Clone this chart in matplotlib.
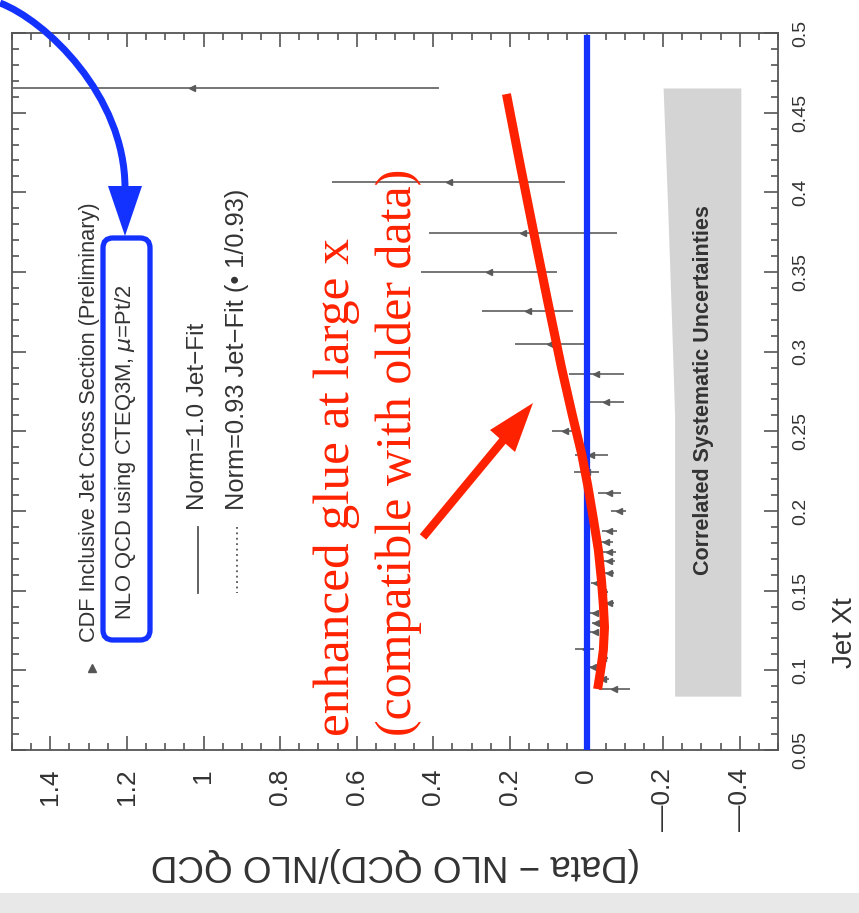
import matplotlib
matplotlib.use('Agg')
import matplotlib.pyplot as plt
import numpy as np
from matplotlib.ticker import MultipleLocator
from matplotlib.patches import FancyBboxPatch, Polygon, PathPatch, Rectangle
from matplotlib.path import Path

plot_font = ['Liberation Sans', 'DejaVu Sans']
note_font = ['Liberation Serif', 'DejaVu Serif']

# measured points: jet xt, (data - nlo)/nlo and the statistical error
jet_xt = [0.4655, 0.4065, 0.3745, 0.350, 0.3255, 0.305, 0.286, 0.2684, 0.250,
          0.235, 0.2244, 0.2112, 0.200, 0.1874, 0.1805, 0.1742, 0.1686, 0.161,
          0.1547, 0.149, 0.142, 0.136, 0.1296, 0.124, 0.1133, 0.1077, 0.102,
          0.0945, 0.0882]
ratio = [1.03, 0.36, 0.165, 0.254, 0.154, 0.094, -0.026, -0.052, 0.057,
         -0.013, 0.000, -0.060, -0.084, -0.060, -0.052, -0.060, -0.060, -0.058,
         -0.026, -0.044, -0.060, -0.021, -0.026, -0.021, 0.005, -0.044, -0.018,
         -0.044, -0.073]
ratio_err = [0.645, 0.305, 0.245, 0.177, 0.118, 0.093, 0.072, 0.046, 0.033,
             0.043, 0.033, 0.029, 0.020, 0.020, 0.018, 0.016, 0.015, 0.014,
             0.013, 0.013, 0.012, 0.012, 0.012, 0.012, 0.025, 0.012, 0.012,
             0.015, 0.040]

# correlated systematics band (drawn offset around -0.3)
band_xt = [0.4655, 0.39, 0.32, 0.26, 0.15, 0.0838]
band_hi = [-0.200, -0.212, -0.222, -0.230, -0.230, -0.230]
band_lo = [-0.403, -0.403, -0.403, -0.403, -0.403, -0.403]

# hand drawn "enhanced glue" curve
glue_xt = [0.4617, 0.4171, 0.3726, 0.3324, 0.2897, 0.2602, 0.2363, 0.2163,
           0.1949, 0.1755, 0.1566, 0.1409, 0.1271, 0.1127, 0.1001, 0.0882]
glue_ratio = [0.209, 0.173, 0.136, 0.102, 0.065, 0.037, 0.013, -0.003,
              -0.018, -0.031, -0.039, -0.044, -0.047, -0.044, -0.037, -0.029]

ratio_ticks = [1.4, 1.2, 1.0, 0.8, 0.6, 0.4, 0.2, 0.0, -0.2, -0.4]
ratio_labels = ['1.4', '1.2', '1', '0.8', '0.6', '0.4', '0.2', '0',
                '\u20140.2', '\u20140.4']
xt_ticks = [0.05, 0.1, 0.15, 0.2, 0.25, 0.3, 0.35, 0.4, 0.45, 0.5]
xt_labels = ['0.05', '0.1', '0.15', '0.2', '0.25', '0.3', '0.35', '0.4',
             '0.45', '0.5']

W, H = 859, 913
fig = plt.figure(figsize=(W / 100, H / 100), dpi=100)
fig.patch.set_facecolor('white')
fig.add_artist(Rectangle((0, 0), 1, 20 / H, transform=fig.transFigure,
                         facecolor='#e8e8e8', edgecolor='none'))

ax = fig.add_axes([12 / W, (H - 750) / H, 766 / W, 717 / H])
ax.set_xlim(1.5, -0.5)
ax.set_ylim(0.05, 0.5)

gray = '#555555'
txt = '#333333'
for s in ax.spines.values():
    s.set_color(gray)
    s.set_linewidth(1.3)

ax.fill_betweenx(band_xt, band_lo, band_hi, color='#d4d4d4', lw=0, zorder=1)
ax.text(-0.305, 0.276, 'Correlated Systematic Uncertainties', rotation=90,
        ha='center', va='center', fontsize=15.5, color=txt,
        family=plot_font, fontweight='bold')

ax.errorbar(ratio, jet_xt, xerr=ratio_err, fmt='<', ms=4, color='#5a5a5a',
            ecolor='#6a6a6a', elinewidth=1.3, capsize=0, zorder=3)

ax.axvline(0, ymin=0, ymax=0.993, color='#1432ff', lw=4.5, zorder=4)
ax.plot(glue_ratio, glue_xt, color='#ff2200', lw=6.5, zorder=5,
        solid_capstyle='butt')

ax.set_xticks(ratio_ticks)
ax.set_xticklabels(ratio_labels, rotation=90, family=plot_font, fontsize=19,
                   color=txt)
ax.xaxis.set_minor_locator(MultipleLocator(0.05))
ax.tick_params(axis='x', which='both', direction='in', top=True, bottom=True,
               colors=gray, labelcolor=txt, pad=13)
ax.tick_params(axis='x', which='major', length=10, width=1.2)
ax.tick_params(axis='x', which='minor', length=5, width=1.2)

ax.yaxis.tick_right()
ax.set_yticks(xt_ticks)
ax.set_yticklabels(xt_labels, rotation=90, va='center', family=plot_font,
                   fontsize=14, color=txt)
ax.yaxis.set_minor_locator(MultipleLocator(0.01))
ax.tick_params(axis='y', which='both', direction='in', left=True, right=True,
               labelleft=False, labelright=True, colors=gray,
               labelcolor=txt, pad=10)
ax.tick_params(axis='y', which='major', length=10, width=1.2)
ax.tick_params(axis='y', which='minor', length=5, width=1.2)

ax.set_xlabel('(Data \u2212 NLO QCD)/NLO QCD', rotation=180, family=plot_font,
              fontsize=26.5, color=txt, va='center', ha='center')
ax.xaxis.set_label_coords(0.5, (750 - 864) / 717)
ax.yaxis.set_label_position('right')
ax.set_ylabel('Jet Xt', rotation=90, family=plot_font, fontsize=20,
              color=txt, va='center', ha='center')
ax.yaxis.set_label_coords((845 - 12) / 766, (750 - 633) / 717)

# overlay in pixel units for the legend and the hand drawn notes
ov = fig.add_axes([0, 0, 1, 1], zorder=10)
ov.set_xlim(0, W)
ov.set_ylim(H, 0)
ov.axis('off')
ov.patch.set_alpha(0)

ov.plot([92], [668], marker='^', ms=6, color='#555555')
ov.text(90, 642, 'CDF Inclusive Jet Cross Section (Preliminary)', rotation=90,
        ha='center', va='bottom', fontsize=15.7, family=plot_font, color=txt)
ov.text(126, 620, 'NLO QCD using CTEQ3M, $\\mu$=Pt/2', rotation=90,
        ha='center', va='bottom', fontsize=15.8, family=plot_font, color=txt)
ov.plot([198, 198], [527, 593], color='#555555', lw=1.3)
ov.text(198, 510, 'Norm=1.0 Jet\u2212Fit', rotation=90, ha='center',
        va='bottom', fontsize=17.5, family=plot_font, color=txt)
ov.plot([237, 237], [527, 593], color='#555555', lw=1.3, ls=(0, (1, 2)))
ov.text(237, 510, 'Norm=0.93 Jet\u2212Fit (\u2022 1/0.93)', rotation=90,
        ha='center', va='bottom', fontsize=18.3, family=plot_font, color=txt)

blue = '#1432ff'
ov.add_patch(FancyBboxPatch((103, 238), 47, 402,
                            boxstyle='round,pad=0,rounding_size=10',
                            fill=False, ec=blue, lw=3.8))
arc = Path([(0, 3), (45, 20), (125, 95), (125, 188)],
           [Path.MOVETO, Path.CURVE4, Path.CURVE4, Path.CURVE4])
ov.add_patch(PathPatch(arc, fill=False, ec=blue, lw=5))
ov.add_patch(Polygon([(125, 236), (108, 186), (142, 186)], closed=True,
                     fc=blue, ec='none'))

red = '#ff2200'
ov.plot([423, 505], [537, 438], color=red, lw=6, solid_capstyle='butt')
ov.add_patch(Polygon([(533, 403), (490, 430), (515, 452)], closed=True,
                     fc=red, ec='none'))
ov.text(337, 736, 'enhanced glue at large x', rotation=90, ha='center',
        va='bottom', fontsize=37, family=note_font, color=red)
ov.text(399, 736, '(compatible with older data)', rotation=90, ha='center',
        va='bottom', fontsize=36, family=note_font, color=red)

fig.savefig('out.png', dpi=100)
